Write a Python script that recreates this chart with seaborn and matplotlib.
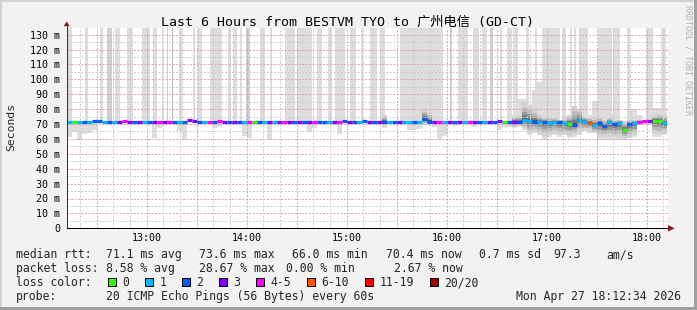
import numpy as np
import pandas as pd
import matplotlib
matplotlib.use("Agg")
import matplotlib.pyplot as plt
import seaborn as sns
from matplotlib.patches import Rectangle, Polygon
from matplotlib.lines import Line2D

# ---------------- data ----------------
title = "Last 6 Hours from BESTVM TYO to 广州电信 (GD-CT)"
start_clock = "12:12"
hour_labels = ["13:00", "14:00", "15:00", "16:00", "17:00", "18:00"]
bin_minutes = 3

median_ms = [
    71.1, 71.1, 71.1, 71.4, 71.1, 72.0, 71.8, 71.1, 71.1, 71.1,
    71.1, 71.8, 71.1, 71.1, 71.1, 71.1, 71.4, 71.1, 71.1, 71.1,
    71.1, 71.1, 71.1, 71.1, 72.4, 71.8, 71.1, 71.6, 71.1, 71.1,
    72.2, 71.6, 71.1, 71.1, 71.1, 71.1, 71.4, 71.1, 71.1, 71.1,
    71.1, 71.1, 71.1, 71.1, 71.1, 71.1, 71.1, 71.1, 71.4, 71.1,
    71.1, 71.1, 71.1, 71.1, 71.1, 71.8, 71.4, 71.1, 71.1, 72.0,
    71.1, 71.1, 71.1, 71.1, 71.1, 71.1, 71.1, 71.1, 71.1, 71.1,
    71.1, 73.4, 71.6, 71.1, 71.1, 71.1, 71.1, 71.1, 71.1, 71.1,
    71.1, 71.1, 71.1, 71.1, 71.1, 71.1, 71.8, 71.1, 71.1, 71.4,
    71.1, 72.7, 72.0, 71.6, 71.1, 71.1, 70.8, 71.1, 71.1, 70.5,
    70.2, 69.5, 72.5, 71.6, 70.8, 69.5, 70.8, 68.9, 71.1, 69.8,
    70.5, 66.0, 69.8, 70.5, 71.6, 71.8, 72.0, 72.0, 72.0, 70.8,
]
# loss class per bin (index into loss_labels)
loss_code = ("1012122121" "3432312343" "4212332142" "4323214021"
             "3134323234" "2213423212" "3232123112" "1223413231"
             "4321323023" "2112121121" "0211512212" "1021443001")
loss_labels = ["0", "1", "2", "3", "4-5", "6-10", "11-19", "20/20"]
loss_colors = ["#26ff00", "#00b8ff", "#0059ff", "#7e00ff",
               "#ff00ff", "#ff5500", "#ff0000", "#a00000"]

# tall smoke bands (minutes since start)
band_start = [0.0, 10.8, 19.8, 24.0, 28.8, 36.0, 45.0, 51.6, 57.0, 60.0, 63.0, 67.2,
              75.6, 78.6, 85.8, 96.6, 99.6, 103.8, 107.4, 115.8, 121.8, 130.8, 138.0,
              150.0, 156.6, 160.8, 169.8, 176.4, 181.8, 187.8, 199.8, 229.8, 234.6,
              243.6, 249.0, 253.8, 259.8, 264.0, 268.2, 275.4, 280.8, 285.0, 297.0,
              301.8, 304.2, 307.2, 318.6, 327.6, 336.0, 347.4, 356.4]
band_end = [3.0, 12.6, 21.6, 27.0, 31.8, 39.6, 49.8, 54.0, 57.6, 60.6, 63.6, 69.6,
            76.8, 81.0, 93.0, 98.4, 102.0, 105.0, 109.8, 118.8, 123.0, 136.8, 147.0,
            153.0, 159.0, 166.8, 173.4, 177.6, 186.0, 190.8, 225.6, 231.0, 240.6,
            247.2, 252.0, 255.6, 261.0, 267.0, 270.6, 277.2, 282.0, 295.8, 299.4,
            303.0, 305.4, 312.6, 327.0, 331.8, 337.8, 351.6, 359.4]
band_shade = [0, 0, 0, 1, 0, 0, 0, 0, 0, 1, 2, 0,
              0, 0, 0, 0, 0, 0, 1, 0, 0, 0, 0,
              0, 0, 0, 0, 0, 0, 0, 0, 1, 0,
              0, 0, 1, 0, 0, 0, 0, 0, 0, 0,
              0, 0, 0, 0, 0, 0, 0, 0]

# light smoke below the median (lowest ping)
dip_bins = [0, 1, 2, 3, 4, 5, 17, 18, 22, 23, 29, 30, 35, 36, 40, 48, 49, 54, 63,
            68, 69, 70, 73, 74, 75, 77, 81, 86, 87, 88, 89,
            90, 91, 92, 93, 94, 95, 96, 97, 98, 99, 100, 101, 102, 103, 104,
            105, 106, 107, 108, 109, 110, 111, 112, 113, 114, 115, 116, 117, 118, 119]
dip_lo = [61.5, 64.8, 59.3, 63.0, 64.0, 66.0, 60.4, 67.3, 65.5, 59.3, 67.0, 68.2, 62.0,
          60.4, 59.3, 64.8, 67.0, 63.0, 67.4, 66.0, 66.0, 66.5, 68.0, 60.0, 62.0, 68.7,
          67.7, 66.0, 68.0, 68.0, 67.0,
          68.3, 66.0, 62.7, 64.0, 62.7, 59.4, 61.6, 62.7, 61.6, 62.7, 60.5, 61.6, 62.7,
          65.0, 64.0, 65.0, 59.4, 59.4, 59.4, 59.4, 59.4, 59.4, 60.5, 61.6, 69.4, 69.4,
          69.4, 61.6, 61.6, 62.7]
# light smoke above the median that stays inside the chart
rise_bins = [89, 90, 91, 92, 93, 94, 103, 104, 105, 106, 107, 108, 109, 112, 113, 114,
             117, 118, 119]
rise_hi = [76, 87, 87, 83, 92.8, 98.4, 78, 76, 85.4, 84.2, 84, 80.9, 77, 79.8, 80, 76,
           81, 81, 81]
# dense (dark) smoke
dense_bins = [63, 71, 72, 89, 90, 91, 92, 93, 94, 95, 96, 97, 98, 99, 100, 101, 102,
              103, 104, 105, 106, 107, 108, 109, 110, 111, 112, 113, 114, 115, 116,
              117, 118, 119]
dense_lo = [70.0, 69.5, 70.0, 68, 69, 67, 64, 65, 64, 62, 63, 64, 63, 63, 62, 63, 65,
            66, 66, 64, 61, 61, 61, 61, 61, 60, 61, 63, 70, 70.5, 70.5, 64, 63, 64]
dense_hi = [76, 80, 78, 75, 76, 84, 82, 80, 76, 74, 74, 74, 73, 74, 76, 82, 80,
            75, 74, 74, 74, 73, 74, 73, 73, 72, 73, 73, 73, 73, 73, 76, 77, 76]

rtt_stats = [71.1, 73.6, 66.0, 70.4]
rtt_sd = 0.7
rtt_amps = 97.3
loss_stats = [8.58, 28.67, 0.00, 2.67]
stat_names = ["avg", "max", "min", "now"]
probe_text = "20 ICMP Echo Pings (56 Bytes) every 60s"
date_text = "Mon Apr 27 18:12:34 2026"

# ---------------- style ----------------
sns.set_theme(style="white")
plt.rcParams["font.family"] = ["DejaVu Sans Mono", "Noto Sans CJK SC"]
MONO = ["DejaVu Sans Mono", "Noto Sans CJK SC"]

W, H = 697, 310
fig = plt.figure(figsize=(W / 100, H / 100), dpi=100)
fig.patch.set_facecolor("#f2f2f2")


def fx(x):
    return x / W


def fy(y):
    return 1 - y / H


X0, X1, YB, YT = 66.7, 668.0, 228.3, 27.7
ax = fig.add_axes([fx(X0), fy(YB), (X1 - X0) / W, (YB - YT) / H])
ax.set_facecolor("white")
px_per_min = 100 / 60
ax.set_xlim(0, (X1 - X0) / px_per_min)
ax.set_ylim(0, 10 * (YB - YT) / 14.9)

sh, sm = start_clock.split(":")
t0 = int(sh) * 60 + int(sm)

# tall bands
shade_cols = ["#dddddd", "#cfcfcf", "#bcbcbc"]
ax.bar(band_start, [200] * len(band_start), bottom=71.0,
       width=np.array(band_end) - np.array(band_start), align="edge",
       color=[shade_cols[s] for s in band_shade], lw=0, zorder=1)

med = np.array(median_ms)
# light smoke
db = np.array(dip_bins)
ax.bar(db * bin_minutes, med[db] - np.array(dip_lo), bottom=dip_lo, width=bin_minutes,
       align="edge", color="#dddddd", lw=0, zorder=1.5)
rb = np.array(rise_bins)
ax.bar(rb * bin_minutes, np.array(rise_hi) - med[rb], bottom=med[rb], width=bin_minutes,
       align="edge", color="#dddddd", lw=0, zorder=1.5)
# dense smoke gradient
nb = np.array(dense_bins)
dlo = np.array(dense_lo)
dhi = np.array(dense_hi)
for f, c in zip([1.0, 0.72, 0.48, 0.28, 0.12],
                ["#d2d2d2", "#bababa", "#9c9c9c", "#7a7a7a", "#555555"]):
    lo = med[nb] - (med[nb] - dlo) * f
    hi = med[nb] + (dhi - med[nb]) * f
    ax.bar(nb * bin_minutes, hi - lo, bottom=lo, width=bin_minutes, align="edge",
           color=c, lw=0, zorder=2)

# grid
red_grid = "#e2a6a6"
grey_grid = "#cdcdcd"
dash = (0, (2, 1.5))
for v in range(5, 135, 5):
    ax.axhline(v, color=red_grid if v % 10 == 0 else grey_grid, lw=0.72, ls=dash, zorder=3)
for clock in range(12 * 60 + 20, 18 * 60 + 11, 10):
    ax.axvline(clock - t0, color=red_grid if clock % 30 == 0 else grey_grid,
               lw=0.72, ls=dash, zorder=3)

# median line coloured by loss, via seaborn
rows = []
for i, (m, c) in enumerate(zip(median_ms, loss_code)):
    lab = loss_labels[int(c)]
    rows.append(dict(t=i * bin_minutes, ms=m, seg=i, loss=lab))
    rows.append(dict(t=(i + 1) * bin_minutes, ms=m, seg=i, loss=lab))
df = pd.DataFrame(rows)
sns.lineplot(data=df, x="t", y="ms", hue="loss", units="seg", estimator=None,
             palette=dict(zip(loss_labels, loss_colors)), hue_order=loss_labels,
             lw=2.3, legend=False, ax=ax, zorder=5, sort=False,
             solid_capstyle="butt")

# axes / ticks
hour_pos = [int(h.split(":")[0]) * 60 - t0 for h in hour_labels]
ax.set_xticks(hour_pos)
ax.set_xticklabels(hour_labels)
ax.set_xticks([c - t0 for c in range(12 * 60 + 20, 18 * 60 + 11, 10)], minor=True)
yt = list(range(0, 131, 10))
ax.set_yticks(yt)
ax.set_yticklabels(["0"] + [f"{v} m" for v in yt[1:]])
ax.set_yticks(list(range(5, 131, 10)), minor=True)
ax.tick_params(axis="both", which="both", direction="out", colors="#333333",
               labelcolor="black", labelsize=7.2, width=0.72)
ax.tick_params(axis="y", which="major", length=2.6, pad=2.2)
ax.tick_params(axis="y", which="minor", length=1.5)
ax.tick_params(axis="x", which="major", length=2.2, pad=1.2)
ax.tick_params(axis="x", which="minor", length=1.2)
for s in ["top", "right"]:
    ax.spines[s].set_visible(False)
ax.spines["left"].set_color("#333333")
ax.spines["bottom"].set_color("black")
for s in ["left", "bottom"]:
    ax.spines[s].set_linewidth(0.72)
    ax.spines[s].set_zorder(6)
ax.set_xlabel("")
ax.set_ylabel("")

# axis extensions and arrows
arrow_col = "#8e1b1b"
fig.add_artist(Line2D([fx(X0), fx(X0)], [fy(YT), fy(24.5)], color="#333333", lw=0.72))
fig.add_artist(Polygon([(fx(63.7), fy(26.2)), (fx(69.7), fy(26.2)), (fx(X0), fy(21.4))],
                       closed=True, color=arrow_col, lw=0))
fig.add_artist(Polygon([(fx(668), fy(225.0)), (fx(668), fy(231.6)), (fx(674.6), fy(YB))],
                       closed=True, color=arrow_col, lw=0))

# texts
fig.text(fx(347.5), fy(25.7), title, ha="center", va="baseline", fontsize=9.5,
         family=MONO, color="black")
fig.text(fx(10.8), fy(126.5), "Seconds", rotation=90, ha="center", va="center",
         fontsize=8.2, family=MONO)
fig.text(fx(688.3), fy(60), "RRDTOOL / TOBI OETIKER", rotation=270, ha="center",
         va="center", fontsize=6.0, family=MONO, color="#b2b2b2")

LFS = 8.3
base = [258.3, 272.3, 286.3, 300.3]
row1 = [("median rtt:", 15.5)] + \
    [(f"{v:.1f} ms {n}", x) for v, n, x in zip(rtt_stats, stat_names, [106, 199, 292, 385.5])] + \
    [(f"{rtt_sd:.1f} ms sd", 479), (f"{rtt_amps:.1f}", 553), ("am/s", 606)]
row2 = [("packet loss:", 15.5)] + \
    [(f"{v:.2f} % {n}", x) for v, n, x in zip(loss_stats, stat_names, [106, 199, 286, 394])]
for txt, x in row1:
    fig.text(fx(x), fy(base[0]), txt, ha="left", va="baseline", fontsize=LFS, family=MONO)
for txt, x in row2:
    fig.text(fx(x), fy(base[1]), txt, ha="left", va="baseline", fontsize=LFS, family=MONO)

fig.text(fx(15.5), fy(base[2]), "loss color:", ha="left", va="baseline", fontsize=LFS,
         family=MONO)
sq_x = 108.0
for lab, col in zip(loss_labels, loss_colors):
    fig.add_artist(Rectangle((fx(sq_x), fy(base[2])), 8 / W, 8 / H, facecolor=col,
                             edgecolor="black", lw=0.72))
    fig.text(fx(sq_x + 14.5), fy(base[2]), lab, ha="left", va="baseline", fontsize=LFS,
             family=MONO)
    sq_x += 30 + 7 * len(lab)

fig.text(fx(15.5), fy(base[3]), "probe:", ha="left", va="baseline", fontsize=LFS, family=MONO)
fig.text(fx(106), fy(base[3]), probe_text, ha="left", va="baseline", fontsize=LFS,
         family=MONO)
fig.text(fx(681), fy(base[3]), date_text, ha="right", va="baseline", fontsize=LFS,
         family=MONO)

# 3D frame
fig.add_artist(Rectangle((0, fy(2)), 1, 2 / H, facecolor="#d2d2d2", lw=0))
fig.add_artist(Rectangle((0, 0), 2 / W, 1, facecolor="#d2d2d2", lw=0))
fig.add_artist(Rectangle((0, 0), 1, 3.3 / H, facecolor="#a0a0a0", lw=0))
fig.add_artist(Rectangle((fx(693.7), 0), 3.3 / W, 1, facecolor="#a0a0a0", lw=0))

fig.savefig("out.png", dpi=100, facecolor=fig.get_facecolor())
